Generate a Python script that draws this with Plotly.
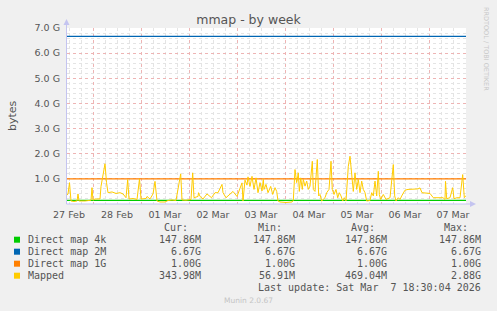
import plotly.graph_objects as go
import pandas as pd

# ---------------- data ----------------
start_time = "2026-02-27 11:00"
end_time = "2026-03-07 18:30"
day_ticks_start = "2026-02-27"

series_names = ["Direct map 4k", "Direct map 2M", "Direct map 1G", "Mapped"]
series_colors = ["#00CC00", "#0066B3", "#FF8000", "#FFCC00"]

const_values_g = [0.1444, 6.67, 1.00]   # GiB

mapped_hours = [
    0, 0.5, 1.25, 2, 3.5, 5, 5.5, 6, 9, 10.5, 12, 12.5, 13, 14, 15.5, 16.5, 17, 18, 19, 19.75,
    20.5, 22.5, 24.5, 26.5, 28, 29.5, 30.35, 31, 33, 35, 36.25, 37, 39.5, 40, 41.5, 43, 44, 45,
    46.5, 49, 50.5, 52.5, 54.5, 56.85, 57.5, 59.5, 62, 62.85, 63.5, 65.5, 65.75, 66.5, 68, 70,
    72.25, 74, 75.5, 77.5, 78, 79.5, 81.5, 83, 85, 86.5, 87.5, 88, 89, 90, 90.5, 91.5, 92.5,
    93.5, 94.5, 95.5, 96.5, 97.5, 98.15, 98.5, 99.5, 100.5, 101.85, 102.85, 104, 104.85, 105.5,
    106.5, 109.5, 112.5, 113.15, 114, 114.85, 115.65, 116.15, 116.85, 117.65, 118.15, 119,
    119.85, 120.65, 121.5, 122.65, 123.15, 124, 125.15, 125.85, 126.5, 127.35, 129, 129.85,
    131, 132, 132.65, 133.5, 134.5, 135.35, 136.15, 137, 137.85, 138.65, 139.5, 140.65, 141.5,
    142.35, 143.15, 144, 144.85, 145.65, 146.5, 147.35, 148.15, 149, 149.85, 151.5, 152.35,
    153.15, 154, 154.85, 155.65, 156.15, 156.85, 158.15, 159.5, 161.5, 163.15, 163.85, 164.5,
    165.65, 166.5, 167.35, 169, 170.5, 173, 175.5, 176.5, 177.5, 181.5, 182.35, 183.15, 188,
    189, 189.25, 189.85, 191.5, 192.85, 193.5, 195, 196.5, 197.85, 198.65, 199.5,
]
mapped_values_g = [
    0.35, 0.4, 0.85, 0.12, 0.1, 0.12, 0.4, 0.12, 0.12, 0.14, 0.15, 0.65, 0.15, 0.2, 0.2, 0.2, 0.7, 1.17, 1.6, 0.85,
    0.45, 0.48, 0.42, 0.45, 0.4, 0.25, 0.97, 0.2, 0.22, 0.18, 1.0, 0.2, 0.22, 0.3, 0.2, 0.4, 0.9, 0.12,
    0.08, 0.08, 0.14, 0.16, 0.14, 1.2, 0.16, 0.15, 0.18, 1.24, 0.25, 0.3, 0.45, 0.3, 0.2, 0.4,
    0.25, 0.45, 0.45, 0.78, 0.45, 0.25, 0.38, 0.5, 0.3, 0.65, 0.84, 0.12, 0.95, 0.75, 1.08, 0.7, 1.1,
    0.58, 1.04, 0.45, 0.85, 0.52, 0.98, 0.58, 0.78, 0.45, 0.7, 0.38, 0.65, 0.5, 0.12,
    0.08, 0.06, 0.08, 0.15, 1.37, 0.85, 1.24, 0.5, 1.04, 0.58, 0.98, 0.71,
    0.91, 0.58, 0.71, 1.7, 0.58, 0.5, 1.77, 0.32, 0.38, 0.12, 0.25, 0.45,
    0.58, 1.7, 0.58, 0.38, 0.58, 0.25, 0.45, 0.32, 0.12, 0.25, 0.12, 1.5, 1.9,
    0.98, 0.5, 1.24, 0.58, 0.98, 0.45, 0.91, 0.58, 0.45, 0.12, 0.14, 0.45,
    0.32, 0.91, 0.32, 1.3, 0.38, 0.18, 0.38, 0.18, 0.25, 1.57, 0.32, 0.12,
    0.25, 0.18, 0.32, 0.55, 0.58, 0.58, 0.6, 0.64, 0.45, 0.42, 0.32, 0.25, 0.25,
    0.18, 0.9, 0.21, 0.25, 0.65, 0.21, 0.25, 0.25, 1.17, 0.25, 0.336,
]

legend_headers = ["Cur:", "Min:", "Avg:", "Max:"]
legend_table = [
    ["147.86M", "147.86M", "147.86M", "147.86M"],
    ["6.67G", "6.67G", "6.67G", "6.67G"],
    ["1.00G", "1.00G", "1.00G", "1.00G"],
    ["343.98M", "56.91M", "469.04M", "2.88G"],
]
y_tick_values = [0, 1, 2, 3, 4, 5, 6, 7]
y_tick_labels = ["", "1.0 G", "2.0 G", "3.0 G", "4.0 G", "5.0 G", "6.0 G", "7.0 G"]
last_update = "Last update: Sat Mar  7 18:30:04 2026"
title_text = "mmap - by week"
y_title = "bytes"
watermark = "RRDTOOL / TOBI OETIKER"
footer = "Munin 2.0.67"

# ---------------- figure ----------------
W, H = 497, 311
L, R, T, B = 67, 31, 28, 107
PW, PH = W - L - R, H - T - B

def px(x):
    return (x - L) / PW

def py(y):
    return (H - B - y) / PH

t0 = pd.Timestamp(start_time)
t_end = pd.Timestamp(end_time)
mapped_times = [t0 + pd.Timedelta(hours=h) for h in mapped_hours]

fig = go.Figure()
for name, color, val in zip(series_names[:3], series_colors[:3], const_values_g):
    fig.add_trace(go.Scatter(x=[t0, t_end], y=[val, val], mode="lines",
                             line=dict(color=color, width=1.3), name=name,
                             hoverinfo="skip"))
fig.add_trace(go.Scatter(x=mapped_times, y=mapped_values_g, mode="lines",
                         line=dict(color=series_colors[3], width=1), name=series_names[3],
                         hoverinfo="skip"))

mono = "DejaVu Sans Mono"
sans = "DejaVu Sans"
txt_color = "#555555"

major_grid = "#eeb4b4"
minor_grid = "#e4e4e4"

fig.update_layout(
    width=W, height=H,
    margin=dict(l=L, r=R, t=T, b=B, pad=0),
    paper_bgcolor="#F0F0F0",
    plot_bgcolor="#FFFFFF",
    showlegend=False,
    title=dict(text=title_text, x=0.5, xref="container", xanchor="center",
               y=1 - 20 / H, yref="container", yanchor="middle",
               font=dict(family=sans, size=12.5, color=txt_color)),
    xaxis=dict(
        type="date", range=[t0, t_end],
        tick0=day_ticks_start, dtick=86400000, ticklabelmode="period",
        tickformat="%d %b", ticks="", showline=False, zeroline=False,
        showgrid=True, gridcolor=major_grid, griddash="dot", gridwidth=1,
        minor=dict(dtick=21600000, tick0=day_ticks_start, showgrid=True,
                   gridcolor=minor_grid, griddash="dot", gridwidth=1, ticks=""),
        tickfont=dict(family=sans, size=9.5, color=txt_color),
        ticklabelstandoff=3,
        fixedrange=True,
    ),
    yaxis=dict(
        range=[0, 7], tickvals=y_tick_values, ticktext=y_tick_labels,
        ticks="", showline=False, zeroline=False,
        showgrid=True, gridcolor=major_grid, griddash="dot", gridwidth=1,
        minor=dict(dtick=0.2, tick0=0, showgrid=True, gridcolor=minor_grid,
                   griddash="dot", gridwidth=1, ticks=""),
        tickfont=dict(family=sans, size=9.5, color=txt_color),
        ticklabelstandoff=6,
        fixedrange=True,
    ),
)

# axis lines with arrows
axis_color = "#c4c4f0"
fig.add_shape(type="line", xref="paper", yref="paper", x0=px(66.5), x1=px(66.5),
              y0=py(204), y1=py(22), line=dict(color=axis_color, width=1))
fig.add_shape(type="line", xref="paper", yref="paper", x0=px(66.5), x1=px(472),
              y0=py(204), y1=py(204), line=dict(color=axis_color, width=1))
fig.add_shape(type="path", xref="paper", yref="paper",
              path=f"M {px(63.5)} {py(25)} L {px(69.5)} {py(25)} L {px(66.5)} {py(19)} Z",
              fillcolor=axis_color, line=dict(width=0))
fig.add_shape(type="path", xref="paper", yref="paper",
              path=f"M {px(470)} {py(201)} L {px(470)} {py(207)} L {px(476)} {py(204)} Z",
              fillcolor=axis_color, line=dict(width=0))

# y title
fig.add_annotation(text=y_title, xref="paper", yref="paper", x=px(12), y=py(116),
                   showarrow=False, textangle=-90, xanchor="center", yanchor="middle",
                   font=dict(family=sans, size=11, color=txt_color))

# watermark
fig.add_annotation(text=watermark, xref="paper", yref="paper", x=px(486), y=py(5),
                   showarrow=False, textangle=90, xanchor="center", yanchor="top",
                   font=dict(family=sans, size=6.5, color="#c8c8c8"))

# legend table
header_right = [190, 284, 376.7, 470]
value_right = [202.7, 296.7, 389.3, 482.7]
row_y = [239.7, 251.7, 263.7, 275.7]
for hdr, xr in zip(legend_headers, header_right):
    fig.add_annotation(text=hdr, xref="paper", yref="paper", x=px(xr), y=py(228),
                       showarrow=False, xanchor="right", yanchor="middle",
                       font=dict(family=mono, size=10, color=txt_color))
for name, color, vals, yy in zip(series_names, series_colors, legend_table, row_y):
    fig.add_shape(type="rect", xref="paper", yref="paper",
                  x0=px(14), x1=px(20), y0=py(yy - 3), y1=py(yy + 3),
                  fillcolor=color, line=dict(width=0))
    fig.add_annotation(text=name, xref="paper", yref="paper", x=px(26), y=py(yy),
                       showarrow=False, xanchor="left", yanchor="middle",
                       font=dict(family=mono, size=10, color=txt_color))
    for v, xr in zip(vals, value_right):
        fig.add_annotation(text=v, xref="paper", yref="paper", x=px(xr), y=py(yy),
                           showarrow=False, xanchor="right", yanchor="middle",
                           font=dict(family=mono, size=10, color=txt_color))
fig.add_annotation(text=last_update.replace(" ", "&nbsp;"), xref="paper", yref="paper",
                   x=px(482.7), y=py(287.7),
                   showarrow=False, xanchor="right", yanchor="middle",
                   font=dict(family=mono, size=10, color=txt_color))
fig.add_annotation(text=footer, xref="paper", yref="paper", x=px(248), y=py(300),
                   showarrow=False, xanchor="center", yanchor="middle",
                   font=dict(family=sans, size=7.5, color="#c4c4c4"))

fig.write_html("out.html", config={"displayModeBar": False})
